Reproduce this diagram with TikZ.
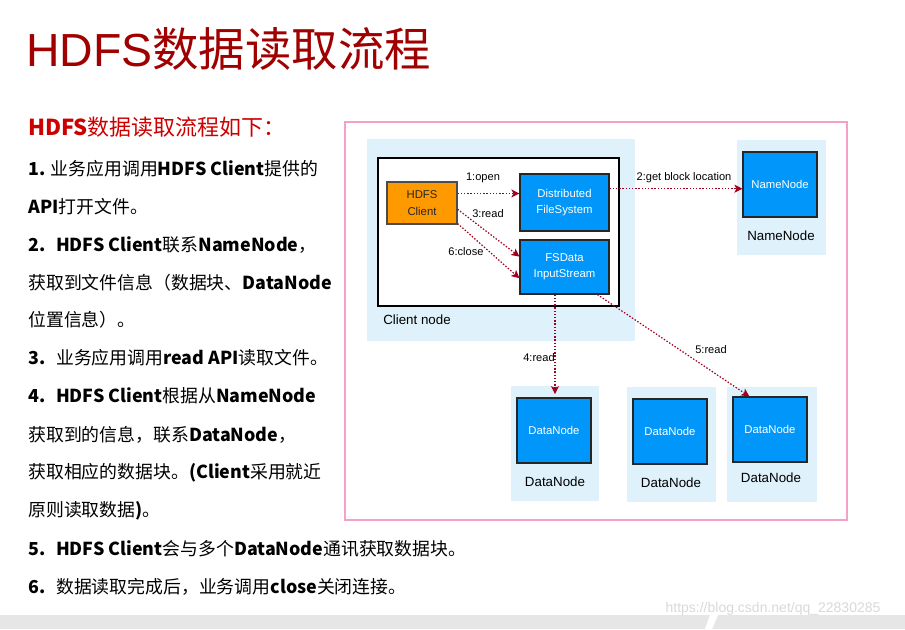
\documentclass[tikz,border=0pt]{standalone}
\usepackage{fontspec}
\setmainfont{Liberation Sans}
\newfontfamily\cjk{Noto Sans CJK SC}
\usetikzlibrary{fit,arrows.meta}
\definecolor{titlered}{RGB}{160,0,0}
\definecolor{headred}{RGB}{204,0,0}
\definecolor{regionblue}{RGB}{223,242,252}
\definecolor{boxblue}{RGB}{0,150,250}
\definecolor{orangebox}{RGB}{255,153,0}
\definecolor{arrred}{RGB}{160,0,30}
\definecolor{pinkline}{RGB}{245,160,200}
\definecolor{bandgray}{RGB}{230,230,230}
\begin{document}
\begin{tikzpicture}[x=0.75pt,y=-0.75pt,
  region/.style={fill=regionblue, inner sep=0pt, draw=none},
  boxtext/.style={inner sep=0pt, align=center, font=\fontsize{8.5}{12.2}\selectfont},
  bluebox/.style={fill=boxblue, draw=black!85, line width=0.9pt, inner sep=0pt, label={[boxtext, text=white]center:#1}},
  arr/.style={draw=arrred, line width=0.9pt, dash pattern=on 1.1pt off 1.3pt, -{Stealth[length=6pt,width=6pt,inset=1.5pt]}},
  lab/.style={inner sep=0pt, font=\fontsize{8.3}{10}\selectfont},
  biglab/.style={inner sep=0pt, font=\fontsize{10}{12}\selectfont},
  body/.style={anchor=west, inner sep=0pt, font=\fontsize{13.4}{16}\selectfont\cjk}
]
\useasboundingbox (0,0) rectangle (905,629);
\fill[white] (0,0) rectangle (905,629);
% bottom band
\fill[bandgray] (0,615) rectangle (905,629);
\fill[white] (710,615) -- (718,615) -- (712,629) -- (705,629) -- cycle;
\node[text=gray!30, inner sep=0pt, font=\fontsize{10.5}{12}\selectfont] (wm) at (773,609) {https://blog.csdn.net/qq\_22830285};

% title
\node[anchor=west, text=titlered, inner sep=0pt, font=\fontsize{34.8}{40}\selectfont] (title) at (26,49) {HDFS{\cjk 数据读取流程}};

% heading and body text
\node[anchor=west, text=headred, inner sep=0pt, font=\fontsize{16.5}{19}\selectfont\cjk] (head) at (28,127) {\textbf{HDFS}数据读取流程如下：};
\node[body] (l1) at (28,169) {\textbf{1.} 业务应用调用\textbf{HDFS Client}提供的};
\node[body] (l2) at (28,207) {\textbf{API}打开文件。};
\node[body] (l3) at (28,245) {\textbf{2.}\hspace{0.6em}\textbf{HDFS Client}联系\textbf{NameNode}，};
\node[body] (l4) at (28,283) {获取到文件信息（数据块、\textbf{DataNode}};
\node[body] (l5) at (28,320) {位置信息）。};
\node[body] (l6) at (28,358) {\textbf{3.}\hspace{0.6em}业务应用调用\textbf{read API}读取文件。};
\node[body] (l7) at (28,396) {\textbf{4.}\hspace{0.6em}\textbf{HDFS Client}根据从\textbf{NameNode}};
\node[body] (l8) at (28,435) {获取到的信息，联系\textbf{DataNode}，};
\node[body] (l9) at (28,473) {获取相应的数据块。\textbf{(Client}采用就近};
\node[body] (l10) at (28,511) {原则读取数据\textbf{)}。};
\node[body] (l11) at (28,549) {\textbf{5.}\hspace{0.6em}\textbf{HDFS Client}会与多个\textbf{DataNode}通讯获取数据块。};
\node[body] (l12) at (28,587) {\textbf{6.}\hspace{0.6em}数据读取完成后，业务调用\textbf{close}关闭连接。};

% diagram frame
\node[fit={(345,122)(847,520)}, draw=pinkline, line width=1.6pt, inner sep=0pt] (frame) {};

% client node
\node[region, fit={(367,139)(635,341)}] (clientreg) {};
\node[fit={(378,158)(619,306)}, draw=black, fill=white, line width=1pt, inner sep=0pt] (clientbox) {};
\node[biglab, anchor=west] (clientlbl) at (383,320) {Client node};
\node[fit={(387,182)(457,224)}, fill=orangebox, draw=black!70, line width=0.8pt, inner sep=0pt, label={[boxtext, text=black!85]center:{HDFS\\Client}}] (hc) {};
\node[bluebox={Distributed\\FileSystem}, fit={(520,174)(609,231)}] (dfs) {};
\node[bluebox={FSData\\InputStream}, fit={(520,240)(609,294)}] (fsd) {};

% namenode
\node[region, fit={(737,140)(826,255)}] (nnreg) {};
\node[bluebox=NameNode, fit={(743,152)(817,217)}] (nn) {};
\node[biglab] (nnlbl) at (781,236) {NameNode};

% datanodes
\node[region, fit={(511,386)(599,501)}] (dn1reg) {};
\node[bluebox=DataNode, fit={(517,398)(591,463)}] (dn1) {};
\node[biglab] (dn1lbl) at (555,482) {DataNode};
\node[region, fit={(627,387)(716,502)}] (dn2reg) {};
\node[bluebox=DataNode, fit={(633,399)(707,464)}] (dn2) {};
\node[biglab] (dn2lbl) at (671,483) {DataNode};
\node[region, fit={(727,387)(817,502)}] (dn3reg) {};
\node[bluebox=DataNode, fit={(733,397)(807,462)}] (dn3) {};
\node[biglab] (dn3lbl) at (771,478) {DataNode};

% connectors
\draw[arr] (hc.15) -- (hc.15 -| dfs.west);
\draw[arr] (dfs.17) -- (dfs.17 -| nn.west);
\draw[arr] (hc.-10) -- (fsd.167);
\draw[arr] (hc.-30) -- (fsd.194);
\draw[arr] (fsd.-109) -- ([yshift=2.5pt]fsd.-109 |- dn1.north);
\draw[arr] (fsd.-40) -- (dn3.122);

% connector labels
\node[lab] (l1open) at (483,178) {1:open};
\node[lab] (l2get) at (684,178) {2:get block location};
\node[lab] (l3read) at (488,214) {3:read};
\node[lab] (l6close) at (466,252) {6:close};
\node[lab] (l4read) at (539,358) {4:read};
\node[lab] (l5read) at (711,350) {5:read};
\end{tikzpicture}
\end{document}
